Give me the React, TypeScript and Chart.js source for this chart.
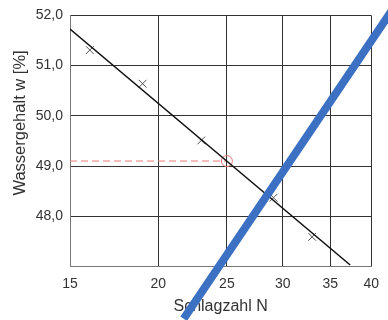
import React, { useEffect, useRef } from "react";
import { Chart, registerables } from "chart.js";

Chart.register(...registerables);

const N_TICKS = [15, 20, 25, 30, 35, 40];
const W_MIN = 47;
const W_MAX = 52;

const measuredN = [16.0, 19.0, 23.0, 29.1, 33.0];
const measuredW = [51.31, 50.64, 49.51, 48.37, 47.59];

const fitN = [15, 37.35];
const fitW = [51.73, 47.03];

const readN = [15, 25];
const readW = [49.1, 49.1];

const circleN = [25];
const circleW = [49.1];

const strokeN = [21.72, 43.35];
const strokeW = [45.96, 52.22];

const X_TITLE = "Schlagzahl N";
const Y_TITLE = "Wassergehalt w [%]";

const FONT = "'Liberation Sans', Arial, Helvetica, sans-serif";

const pts = (xs: number[], ys: number[]) => xs.map((x, i) => ({ x, y: ys[i] }));

const yTitlePlugin = {
  id: "yTitle",
  afterDraw(chart: any) {
    const { ctx, chartArea } = chart;
    ctx.save();
    ctx.fillStyle = "#333";
    ctx.font = `16.5px ${FONT}`;
    ctx.textAlign = "center";
    ctx.textBaseline = "middle";
    ctx.translate(20, (chartArea.top + chartArea.bottom) / 2 - 18);
    ctx.rotate(-Math.PI / 2);
    ctx.fillText(Y_TITLE, 0, 0);
    ctx.restore();
  },
};

export default function App() {
  const ref = useRef<HTMLCanvasElement | null>(null);
  useEffect(() => {
    if (!ref.current) return;
    const chart = new Chart(ref.current, {
      type: "scatter",
      data: {
        datasets: [
          {
            data: pts(strokeN, strokeW),
            showLine: true,
            borderColor: "#3b70c2",
            borderWidth: 8,
            pointRadius: 0,
            clip: false,
          } as any,
          {
            data: pts(fitN, fitW),
            showLine: true,
            borderColor: "#111",
            borderWidth: 1.5,
            pointRadius: 0,
          },
          {
            data: pts(measuredN, measuredW),
            showLine: false,
            pointStyle: "crossRot",
            pointRadius: 5.5,
            borderColor: "#555",
            borderWidth: 1,
          },
          {
            data: pts(readN, readW),
            showLine: true,
            borderColor: "#e67a74",
            borderWidth: 1,
            borderDash: [7, 4],
            pointRadius: 0,
          },
          {
            data: pts(circleN, circleW),
            showLine: false,
            pointStyle: "circle",
            pointRadius: 5.5,
            borderColor: "#e67a74",
            backgroundColor: "rgba(0,0,0,0)",
            borderWidth: 1,
          },
        ],
      },
      options: {
        animation: false,
        responsive: true,
        maintainAspectRatio: false,
        layout: { padding: { left: 0, top: 11, right: 13.5, bottom: 0 } },
        plugins: { legend: { display: false }, tooltip: { enabled: false } },
        scales: {
          x: {
            type: "logarithmic",
            min: 15,
            max: 40,
            afterBuildTicks: (s: any) => {
              s.ticks = N_TICKS.map((v) => ({ value: v }));
            },
            afterFit: (s: any) => {
              s.height = 53.5;
            },
            ticks: {
              callback: (v: any) => String(v),
              color: "#333",
              font: { family: FONT, size: 14 },
              padding: 9,
              maxRotation: 0,
              autoSkip: false,
            },
            grid: { color: "#333", lineWidth: 1, drawTicks: false },
            border: { color: "#777", width: 1 },
            title: {
              display: true,
              text: X_TITLE,
              color: "#333",
              font: { family: FONT, size: 16 },
              padding: { top: 0, bottom: 4 },
            },
          },
          y: {
            type: "linear",
            min: W_MIN,
            max: W_MAX,
            afterFit: (s: any) => {
              s.width = 70;
            },
            ticks: {
              stepSize: 1,
              callback: (v: any) => (v === W_MIN ? "" : Number(v).toFixed(1).replace(".", ",")),
              color: "#333",
              font: { family: FONT, size: 14 },
              padding: 7,
            },
            grid: { color: "#333", lineWidth: 1, drawTicks: false },
            border: { color: "#777", width: 1 },
          },
        },
      },
      plugins: [yTitlePlugin],
    });
    return () => chart.destroy();
  }, []);
  return (
    <div style={{ position: "fixed", left: 0, top: 0, width: 388, height: 320, background: "#fff" }}>
      <canvas ref={ref} />
    </div>
  );
}
